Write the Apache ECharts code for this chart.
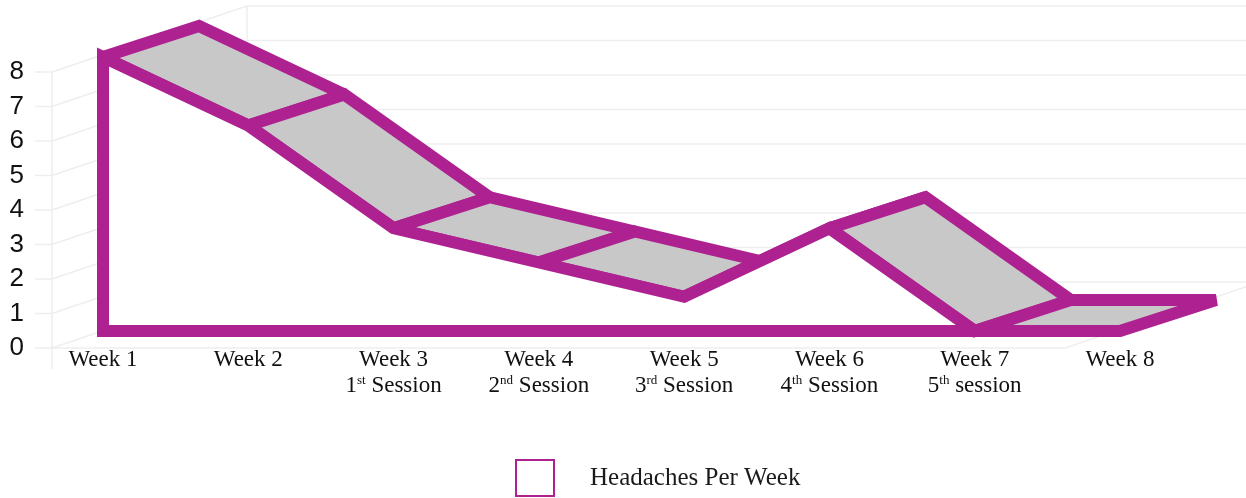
<!DOCTYPE html>
<html><head><meta charset="utf-8">
<script src="https://cdn.jsdelivr.net/npm/echarts@6/dist/echarts.min.js"></script>
<style>html,body{margin:0;padding:0;background:#fff}#c{width:1246px;height:498px}</style>
</head><body><div id="c"></div>
<script>
// ---- data ----
const categories  = ['Week 1','Week 2','Week 3','Week 4','Week 5','Week 6','Week 7','Week 8'];
const sessionNum  = ['', '', '1', '2', '3', '4', '5', ''];
const sessionSup  = ['', '', 'st', 'nd', 'rd', 'th', 'th', ''];
const sessionWord = ['', '', 'Session', 'Session', 'Session', 'Session', 'session', ''];
const headaches   = [8, 6, 3, 2, 1, 3, 0, 0];
const yTicks      = [0, 1, 2, 3, 4, 5, 6, 7, 8];
const seriesName  = 'Headaches Per Week';

// ---- style ----
const MAG = '#AE2190';
const GRAY = '#C8C8C8';
const WALLC = '#EEEEEE';
const DEPTH = [96, -31];   // ribbon depth (px)
const WALL = [195, -66];   // box depth (px)
const n = headaches.length;

function ln(x1, y1, x2, y2) {
  return { type: 'line', shape: { x1, y1, x2, y2 }, style: { stroke: WALLC, lineWidth: 1.5 }, silent: true };
}

const chart = echarts.init(document.getElementById('c'), null, { renderer: 'canvas' });
chart.setOption({
  animation: false,
  backgroundColor: '#fff',
  grid: [
    { left: 103, right: 126, top: 57, bottom: 167 },   // series front plane
    { left: 52, right: 181, top: 72, bottom: 150 }      // box front plane
  ],
  xAxis: [
    {
      type: 'category', gridIndex: 0, data: categories, boundaryGap: false,
      axisLine: { show: false }, axisTick: { show: false }, splitLine: { show: false },
      axisLabel: {
        interval: 0, margin: 16,
        formatter: function (val, i) {
          let s = '{w|' + val + '}';
          if (sessionWord[i]) s += '\n{w|' + sessionNum[i] + '}{s|' + sessionSup[i] + '}{w| ' + sessionWord[i] + '}';
          return s;
        },
        rich: {
          w: { fontFamily: 'Liberation Serif', fontSize: 23, color: '#111', lineHeight: 26 },
          s: { fontFamily: 'Liberation Serif', fontSize: 13, color: '#111', lineHeight: 26, verticalAlign: 'top', padding: [1, 0, 0, 0] }
        }
      }
    },
    {
      type: 'category', gridIndex: 1, data: categories, boundaryGap: false, show: false
    }
  ],
  yAxis: [
    { type: 'value', gridIndex: 0, min: 0, max: 8, interval: 1, show: false },
    {
      type: 'value', gridIndex: 1, min: 0, max: 8, interval: 1,
      axisLine: { show: false }, axisTick: { show: false }, splitLine: { show: false },
      axisLabel: { margin: 28, fontFamily: 'Liberation Sans', fontSize: 26, color: '#111' }
    }
  ],
  legend: {
    data: [{ name: seriesName, icon: 'rect', itemStyle: { color: '#fff', borderColor: MAG, borderWidth: 2 } }],
    left: 515, top: 459, padding: 0, itemWidth: 38, itemHeight: 36, selectedMode: false,
    textStyle: { fontFamily: 'Liberation Serif', fontSize: 25, color: '#1a1a1a', padding: [0, 0, 0, 31] }
  },
  series: [
    {
      name: 'walls', type: 'custom', xAxisIndex: 1, yAxisIndex: 1, z: 1, silent: true,
      data: yTicks.map(t => [0, t]),
      renderItem: function (params, api) {
        const t = api.value(1);
        const p = api.coord([0, t]);
        const x0 = p[0], y = p[1];
        const W = api.getWidth();
        const ch = [
          ln(x0 - 17, y, x0, y),
          ln(x0, y, x0 + WALL[0], y + WALL[1]),
          ln(x0 + WALL[0], y + WALL[1], W + 10, y + WALL[1])
        ];
        if (t === 0) {
          const top = api.coord([0, yTicks[yTicks.length - 1]]);
          const r = api.coord([n - 1, 0]);
          ch.push(ln(x0, top[1], x0, y + 21));
          ch.push(ln(x0 + WALL[0], top[1] + WALL[1], x0 + WALL[0], y + WALL[1]));
          ch.push(ln(x0, y, r[0], y));
          ch.push(ln(r[0], y, r[0] + WALL[0], y + WALL[1]));
        }
        return { type: 'group', children: ch };
      }
    },
    {
      name: seriesName, type: 'custom', xAxisIndex: 0, yAxisIndex: 0, z: 2,
      itemStyle: { color: '#fff', borderColor: MAG },
      data: headaches.slice(0, -1).map((v, i) => [i, v, headaches[i + 1]]),
      renderItem: function (params, api) {
        const i = api.value(0);
        const a = api.coord([i, api.value(1)]);
        const b = api.coord([i + 1, api.value(2)]);
        const pts = [a, b, [b[0] + DEPTH[0], b[1] + DEPTH[1]], [a[0] + DEPTH[0], a[1] + DEPTH[1]]];
        return {
          type: 'polygon', shape: { points: pts },
          style: { fill: GRAY, stroke: MAG, lineWidth: 12, lineJoin: 'miter', miterLimit: 1.5 }
        };
      }
    },
    {
      name: seriesName, type: 'custom', xAxisIndex: 0, yAxisIndex: 0, z: 3,
      itemStyle: { color: '#fff', borderColor: MAG },
      data: headaches.map((v, i) => [i, v]),
      renderItem: function (params, api) {
        if (params.dataIndex !== 0) return null;
        const raw = [api.coord([0, 0])];
        headaches.forEach((v, i) => raw.push(api.coord([i, v])));
        raw.push(api.coord([n - 1, 0]));
        const pts = [];
        raw.forEach(p => {
          const l = pts[pts.length - 1];
          if (!l || Math.abs(l[0] - p[0]) > 0.5 || Math.abs(l[1] - p[1]) > 0.5) pts.push(p);
        });
        return {
          type: 'polygon', shape: { points: pts },
          style: { fill: '#fff', stroke: MAG, lineWidth: 12, lineJoin: 'miter', miterLimit: 2 }
        };
      }
    }
  ]
});
</script>
</body></html>
